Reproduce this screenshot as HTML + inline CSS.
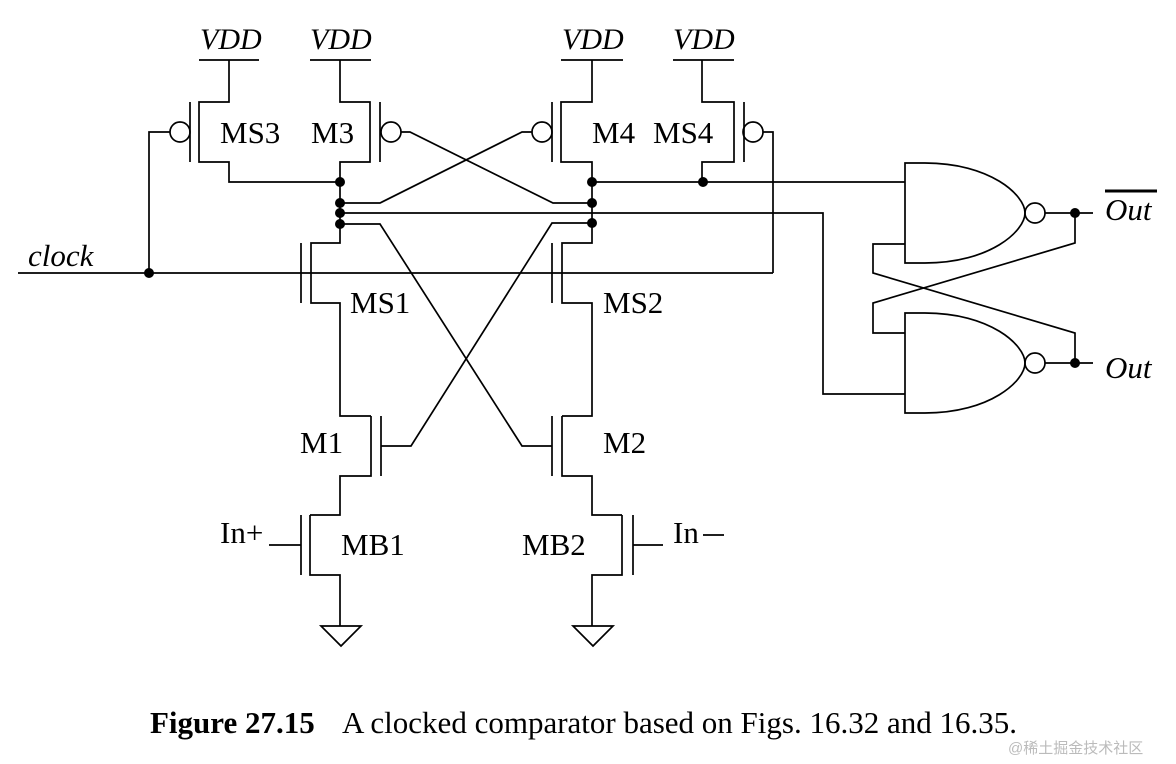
<!DOCTYPE html>
<html><head><meta charset="utf-8"><style>
html,body{margin:0;padding:0;background:#fff;}
svg{display:block;}
text{font-family:"Liberation Serif",serif;fill:#000;}
.l{stroke:#000;stroke-width:1.7;fill:none;}
</style></head><body>
<svg width="1176" height="764" viewBox="0 0 1176 764">
<g class="l">
<path d="M199,60H259M229,60V102H199V162H229V182H340"/>
<path d="M190,102V162"/>
<circle cx="180" cy="132" r="10"/>
<path d="M170,132H149V273"/>
<path d="M310,60H371M340,60V102H370V162H340V182"/>
<path d="M380,102V162"/>
<circle cx="391" cy="132" r="10"/>
<path d="M401,132H410L553,203H592"/>
<path d="M561,60H623M592,60V102H561V162H592V182"/>
<path d="M552,102V162"/>
<circle cx="542" cy="132" r="10"/>
<path d="M340,203H380L522,132H532"/>
<path d="M673,60H734M702,60V102H734V162H702V182"/>
<path d="M744,102V162"/>
<circle cx="753" cy="132" r="10"/>
<path d="M763,132H773V273"/>
<path d="M340,182V243H311V303H340L340,416H371"/>
<path d="M592,182V243H562V303H592V416H562"/>
<path d="M301,243V303M552,243V303"/>
<path d="M592,182H905"/>
<path d="M340,213H823V394H905"/>
<path d="M340,224H380L522,446H552"/>
<path d="M592,223H552L411,446H381"/>
<path d="M18,273H773"/>
<path d="M371,416V476H340V515H310"/>
<path d="M381,416V476"/>
<path d="M562,416V476H592V515H622"/>
<path d="M552,416V476"/>
<path d="M310,515V575H340V626"/>
<path d="M301,515V575M301,545H269"/>
<path d="M321,626H361L341,646Z"/>
<path d="M622,515V575H592V626"/>
<path d="M633,515V575M633,545H663"/>
<path d="M573,626H613L593,646Z"/>
<path d="M703,535H724"/>
<path d="M905,163H925C990,163 1025,195 1025,213C1025,231 990,263 925,263H905Z"/>
<circle cx="1035" cy="213" r="10"/>
<path d="M905,313H925C990,313 1025,345 1025,363C1025,381 990,413 925,413H905Z"/>
<circle cx="1035" cy="363" r="10"/>
<path d="M1045,213H1093M1045,363H1093"/>
<path d="M1075,213V243L873,303V333H905"/>
<path d="M1075,363V333L873,273V244H905"/>
<path d="M1105,191H1157" style="stroke-width:3"/>
</g>
<g fill="#000">
<circle cx="149" cy="273" r="5"/>
<circle cx="340" cy="182" r="5"/><circle cx="340" cy="203" r="5"/><circle cx="340" cy="213" r="5"/><circle cx="340" cy="224" r="5"/>
<circle cx="592" cy="182" r="5"/><circle cx="592" cy="203" r="5"/><circle cx="592" cy="223" r="5"/>
<circle cx="703" cy="182" r="5"/>
<circle cx="1075" cy="213" r="5"/><circle cx="1075" cy="363" r="5"/>
</g>
<g font-size="31">
<text x="200" y="49" font-style="italic" font-size="30">VDD</text>
<text x="310" y="49" font-style="italic" font-size="30">VDD</text>
<text x="562" y="49" font-style="italic" font-size="30">VDD</text>
<text x="673" y="49" font-style="italic" font-size="30">VDD</text>
<text x="220" y="143">MS3</text>
<text x="311" y="143">M3</text>
<text x="592" y="143">M4</text>
<text x="653" y="143">MS4</text>
<text x="28" y="266" font-style="italic">clock</text>
<text x="350" y="313">MS1</text>
<text x="603" y="313">MS2</text>
<text x="300" y="453">M1</text>
<text x="603" y="453">M2</text>
<text x="220" y="543">In+</text>
<text x="341" y="555">MB1</text>
<text x="522" y="555">MB2</text>
<text x="673" y="543">In</text>
<text x="1105" y="220" font-style="italic">Out</text>
<text x="1105" y="378" font-style="italic">Out</text>
<text x="150" y="733"><tspan font-weight="bold">Figure 27.15</tspan><tspan x="342">A clocked comparator based on Figs. 16.32 and 16.35.</tspan></text>
</g>
<text x="1008" y="753" font-size="15" style="font-family:'Liberation Sans','Noto Sans CJK SC',sans-serif;fill:#bbb">@稀土掘金技术社区</text>
</svg>
</body></html>
